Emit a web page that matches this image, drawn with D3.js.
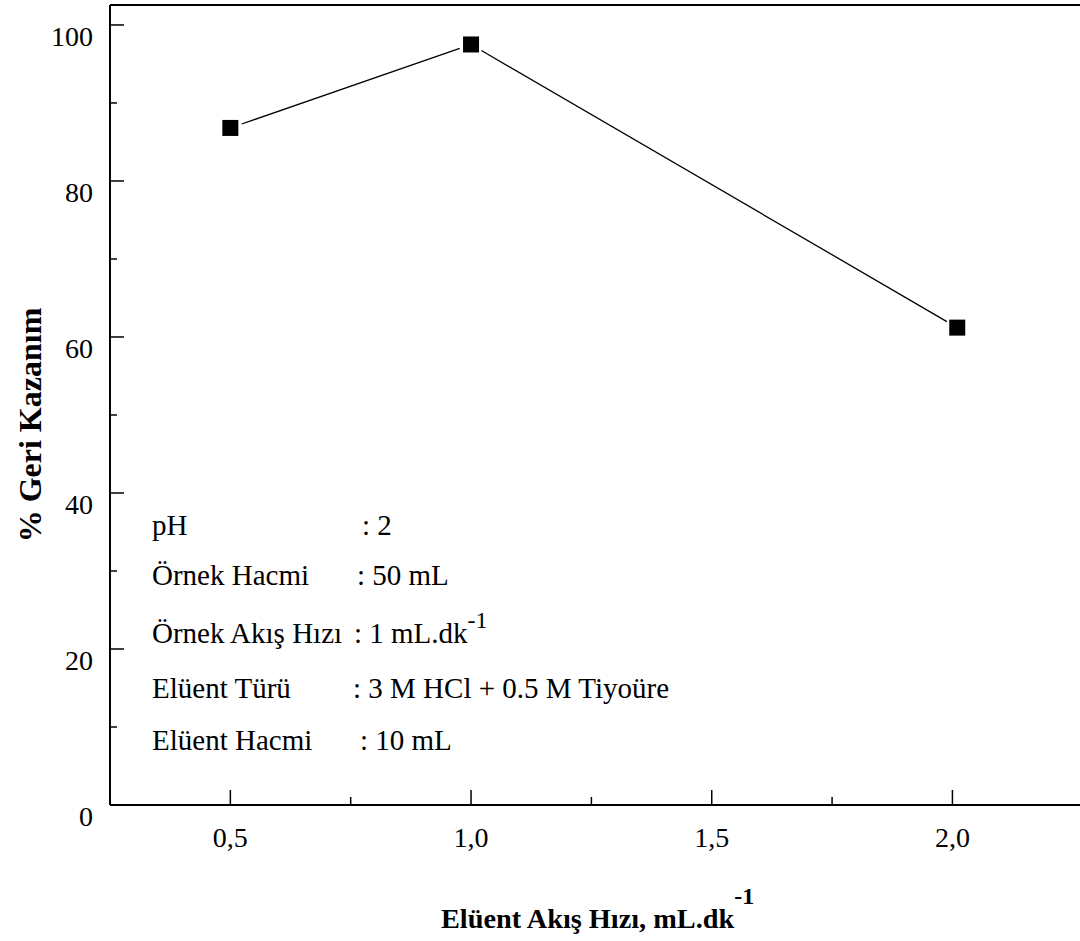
<!DOCTYPE html>
<html>
<head>
<meta charset="utf-8">
<script src="https://cdn.jsdelivr.net/npm/d3@7"></script>
<style>
  html, body { margin: 0; padding: 0; background: #fff; }
  svg { display: block; }
  text { font-family: "Liberation Serif", "Times New Roman", serif; fill: #000; }
</style>
</head>
<body>
<svg id="chart" width="1080" height="941"></svg>
<script>
// ---- data ----
const flowRates = [0.5, 1.0, 2.01];
const recovery = [86.8, 97.5, 61.2];
const xMajorTicks = [0.5, 1.0, 1.5, 2.0];
const xMinorTicks = [0.75, 1.25, 1.75];
const xTickLabels = ["0,5", "1,0", "1,5", "2,0"];
const yMajorTicks = [0, 20, 40, 60, 80, 100];
const yMinorTicks = [10, 30, 50, 70, 90];
const yTickLabels = ["0", "20", "40", "60", "80", "100"];
const annotLabels = ["pH", "Örnek Hacmi", "Örnek Akış Hızı", "Elüent Türü", "Elüent Hacmi"];
const annotValues = [": 2", ": 50 mL", ": 1 mL.dk", ": 3 M HCl + 0.5 M Tiyoüre", ": 10 mL"];
const annotSup = ["", "", "-1", "", ""];
const xTitle = "Elüent Akış Hızı, mL.dk";
const xTitleSup = "-1";
const yTitle = "% Geri Kazanım";

(function () {
// ---- layout ----
const svg = d3.select("#chart");
const pL = 110, pR = 1080, pT = 5, pB = 805;
const x = d3.scaleLinear().domain([0.25, 2.265]).range([pL, pR]);
const y = d3.scaleLinear().domain([0, 102.56]).range([pB, pT]);

// axes lines
svg.append("line").attr("x1", pL).attr("x2", pL).attr("y1", pT).attr("y2", pB)
  .attr("stroke", "#000").attr("stroke-width", 2);
svg.append("line").attr("x1", pL).attr("x2", pR).attr("y1", pB).attr("y2", pB)
  .attr("stroke", "#000").attr("stroke-width", 2);
svg.append("line").attr("x1", pL).attr("x2", pR).attr("y1", pT).attr("y2", pT)
  .attr("stroke", "#000").attr("stroke-width", 2);

// x ticks (inward)
svg.selectAll(".xmaj").data(xMajorTicks).enter().append("line")
  .attr("x1", d => x(d)).attr("x2", d => x(d)).attr("y1", pB).attr("y2", pB - 15)
  .attr("stroke", "#000").attr("stroke-width", 1.5);
svg.selectAll(".xmin").data(xMinorTicks).enter().append("line")
  .attr("x1", d => x(d)).attr("x2", d => x(d)).attr("y1", pB).attr("y2", pB - 8)
  .attr("stroke", "#000").attr("stroke-width", 1.5);
svg.selectAll(".xlab").data(xMajorTicks).enter().append("text")
  .attr("x", d => x(d)).attr("y", pB + 42)
  .attr("text-anchor", "middle").attr("font-size", 28)
  .text((d, i) => xTickLabels[i]);

// y ticks (inward)
svg.selectAll(".ymaj").data(yMajorTicks).enter().append("line")
  .attr("x1", pL).attr("x2", pL + 14).attr("y1", d => y(d)).attr("y2", d => y(d))
  .attr("stroke", "#000").attr("stroke-width", 1.5);
svg.selectAll(".ymin").data(yMinorTicks).enter().append("line")
  .attr("x1", pL).attr("x2", pL + 7).attr("y1", d => y(d)).attr("y2", d => y(d))
  .attr("stroke", "#000").attr("stroke-width", 1.5);
svg.selectAll(".ylab").data(yMajorTicks).enter().append("text")
  .attr("x", 93).attr("y", d => y(d) + 21)
  .attr("text-anchor", "end").attr("font-size", 28)
  .text((d, i) => yTickLabels[i]);

// connecting line segments with small gaps at markers
const pts = flowRates.map((f, i) => [x(f), y(recovery[i])]);
const gap = 12;
const segs = d3.pairs(pts).map(([a, b]) => {
  const dx = b[0] - a[0], dy = b[1] - a[1], L = Math.hypot(dx, dy);
  const ux = dx / L, uy = dy / L;
  return [a[0] + ux * gap, a[1] + uy * gap, b[0] - ux * gap, b[1] - uy * gap];
});
svg.selectAll(".seg").data(segs).enter().append("line")
  .attr("x1", d => d[0]).attr("y1", d => d[1]).attr("x2", d => d[2]).attr("y2", d => d[3])
  .attr("stroke", "#000").attr("stroke-width", 1.3);

// markers
const ms = 16;
svg.selectAll(".mk").data(flowRates).enter().append("rect")
  .attr("x", d => x(d) - ms / 2)
  .attr("y", (d, i) => y(recovery[i]) - ms / 2)
  .attr("width", ms).attr("height", ms).attr("fill", "#000");

// annotations
const annotY = [535, 585, 643, 698, 750];
const colonX = [362, 357, 354, 353, 360];
annotLabels.forEach((lab, i) => {
  svg.append("text").attr("x", 152).attr("y", annotY[i]).attr("font-size", 29).text(lab);
  const t = svg.append("text").attr("x", colonX[i]).attr("y", annotY[i]).attr("font-size", 29);
  t.append("tspan").text(annotValues[i]);
  if (annotSup[i]) {
    t.append("tspan").attr("dy", -15).attr("font-size", 24).text(annotSup[i]);
  }
});

// x axis title
const xt = svg.append("text").attr("x", 441).attr("y", 928)
  .attr("font-size", 28.3).attr("font-weight", "bold");
xt.append("tspan").text(xTitle);
xt.append("tspan").attr("dy", -24).attr("font-size", 24).text(xTitleSup);

// y axis title
svg.append("text")
  .attr("transform", "translate(41,425) rotate(-90)")
  .attr("text-anchor", "middle").attr("font-size", 32).attr("font-weight", "bold")
  .text(yTitle);
})();
</script>
</body>
</html>
